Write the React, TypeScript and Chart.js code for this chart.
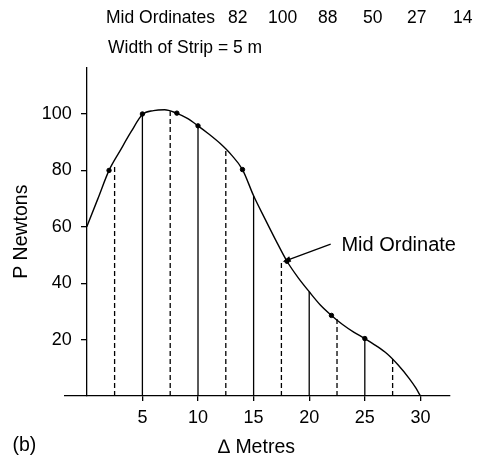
import React, { useEffect, useRef } from "react";
import { Chart, registerables } from "chart.js";

Chart.register(...registerables);

// Curve P (Newtons) against distance (metres)
const curveX = [0, 1, 2, 3, 4, 5, 6, 7, 8, 9, 10, 11, 12, 13, 14, 15, 16, 17, 18, 19, 20, 21, 22, 23, 24, 25, 26, 27, 28, 29, 29.6, 30];
const curveY = [60, 70, 80, 87, 93.8, 99.8, 101.2, 101.5, 100.4, 98.5, 95.8, 92.8, 89.5, 85.5, 80.3, 71, 63, 55.2, 47.8, 42, 37, 32.3, 28.6, 25.4, 22.7, 20.4, 17.9, 15, 11, 6.2, 2.8, 0];

// Strip boundaries (solid ordinates)
const stripX = [5, 10, 15, 20, 25];
const stripY = [100, 95.8, 71, 37, 20.4];

// Mid ordinates (dashed)
const midX = [2.5, 7.5, 12.5, 17.5, 22.5, 27.5];
const midY = [81.8, 101, 87.5, 47.8, 27.3, 13.6];
const midLabels = ["82", "100", "88", "50", "27", "14"];

// Marked points on the curve
const dotX = [2, 5, 8.1, 10, 14, 18, 22, 25];
const dotY = [80, 100, 100.3, 95.8, 80.3, 47.8, 28.6, 20.4];

const xTicks = [5, 10, 15, 20, 25, 30];
const yTicks = [20, 40, 60, 80, 100];

const X_MIN = -1.96;
const X_MAX = 32.66;
const Y_MAX = 116.3;
const Y_LABEL_X = -1.35;

const arrowTip = { x: 17.62, y: 47.6 };
const arrowTail = { x: 21.93, y: 53.9 };
const arrowLabelAt = { x: 22.9, y: 51.5 };

const FONT = '"Liberation Sans", Arial, Helvetica, sans-serif';

const textPlugin = {
  id: "texts",
  afterDraw(chart: any) {
    const ctx = chart.ctx as CanvasRenderingContext2D;
    const xs = chart.scales.x;
    const ys = chart.scales.y;
    ctx.save();
    ctx.fillStyle = "#000";
    ctx.strokeStyle = "#000";
    ctx.textBaseline = "alphabetic";

    // header
    ctx.font = `17.5px ${FONT}`;
    ctx.textAlign = "left";
    ctx.fillText("Mid Ordinates", 106, 23);
    const numX = [228, 268, 318, 363, 407, 453];
    midLabels.forEach((t, i) => ctx.fillText(t, numX[i], 23));
    ctx.fillText("Width of Strip = 5 m", 108, 53);

    // axis titles
    ctx.font = `19.5px ${FONT}`;
    ctx.textAlign = "center";
    ctx.fillText("\u2206 Metres", 256.5, 453);
    ctx.textAlign = "left";
    ctx.fillText("(b)", 12.5, 451);
    ctx.save();
    ctx.translate(26.7, 231.7);
    ctx.rotate(-Math.PI / 2);
    ctx.textAlign = "center";
    ctx.fillText("P Newtons", 0, 0);
    ctx.restore();

    // annotation arrow
    const tx = xs.getPixelForValue(arrowTip.x);
    const ty = ys.getPixelForValue(arrowTip.y);
    const sx = xs.getPixelForValue(arrowTail.x);
    const sy = ys.getPixelForValue(arrowTail.y);
    const ang = Math.atan2(ty - sy, tx - sx);
    ctx.lineWidth = 1.3;
    ctx.beginPath();
    ctx.moveTo(sx, sy);
    ctx.lineTo(tx - 5 * Math.cos(ang), ty - 5 * Math.sin(ang));
    ctx.stroke();
    ctx.beginPath();
    ctx.moveTo(tx, ty);
    ctx.lineTo(tx - 8 * Math.cos(ang) + 3 * Math.sin(ang), ty - 8 * Math.sin(ang) - 3 * Math.cos(ang));
    ctx.lineTo(tx - 8 * Math.cos(ang) - 3 * Math.sin(ang), ty - 8 * Math.sin(ang) + 3 * Math.cos(ang));
    ctx.closePath();
    ctx.fill();

    ctx.font = `20px ${FONT}`;
    ctx.textAlign = "left";
    ctx.fillText("Mid Ordinate", xs.getPixelForValue(arrowLabelAt.x), ys.getPixelForValue(arrowLabelAt.y));
    ctx.restore();
  },
};

export default function App() {
  const ref = useRef<HTMLCanvasElement>(null);
  useEffect(() => {
    document.body.style.margin = "0";
    const canvas = ref.current!;
    const datasets: any[] = [];
    stripX.forEach((x, i) => {
      datasets.push({
        data: [{ x, y: 0 }, { x, y: stripY[i] }],
        borderColor: "#000",
        borderWidth: 1.3,
        pointRadius: 0,
        showLine: true,
      });
    });
    midX.forEach((x, i) => {
      datasets.push({
        data: [{ x, y: 0 }, { x, y: midY[i] }],
        borderColor: "#000",
        borderWidth: 1.3,
        borderDash: [5, 3],
        pointRadius: 0,
        showLine: true,
      });
    });
    datasets.push({
      data: curveX.map((x, i) => ({ x, y: curveY[i] })),
      borderColor: "#000",
      borderWidth: 1.4,
      pointRadius: 0,
      showLine: true,
      cubicInterpolationMode: "monotone",
    });
    datasets.push({
      data: dotX.map((x, i) => ({ x, y: dotY[i] })),
      backgroundColor: "#000",
      borderColor: "#000",
      pointRadius: 2.2,
      showLine: false,
    });

    const chart = new Chart(canvas, {
      type: "scatter",
      data: { datasets },
      options: {
        animation: false,
        responsive: false,
        devicePixelRatio: 1,
        layout: { padding: { left: 65, right: 29, top: 68, bottom: 21.3 } },
        plugins: { legend: { display: false }, tooltip: { enabled: false }, title: { display: false } },
        scales: {
          x: {
            type: "linear",
            min: X_MIN,
            max: X_MAX,
            afterBuildTicks: (s: any) => {
              s.ticks = xTicks.map((v) => ({ value: v }));
            },
            grid: { drawOnChartArea: false, drawTicks: true, tickLength: 5, color: "#000", lineWidth: 1.3 },
            border: { display: true, color: "#000", width: 1.3 },
            ticks: { color: "#000", font: { family: FONT, size: 18 }, padding: 6, maxRotation: 0, autoSkip: false },
          },
          y: {
            type: "linear",
            position: { x: 0 } as any,
            min: 0,
            max: Y_MAX,
            afterBuildTicks: (s: any) => {
              s.ticks = yTicks.map((v) => ({ value: v }));
            },
            grid: { drawOnChartArea: false, drawTicks: true, tickLength: 5, color: "#000", lineWidth: 1.3 },
            border: { display: true, color: "#000", width: 1.3 },
            ticks: { display: false },
          },
          yLabels: {
            type: "linear",
            axis: "y",
            position: { x: Y_LABEL_X } as any,
            min: 0,
            max: Y_MAX,
            afterBuildTicks: (s: any) => {
              s.ticks = yTicks.map((v) => ({ value: v }));
            },
            grid: { display: false },
            border: { display: false },
            ticks: { color: "#000", font: { family: FONT, size: 18 }, autoSkip: false },
          },
        },
      },
      plugins: [textPlugin],
    });
    return () => chart.destroy();
  }, []);
  return <canvas ref={ref} width={479} height={456} style={{ display: "block" }} />;
}
